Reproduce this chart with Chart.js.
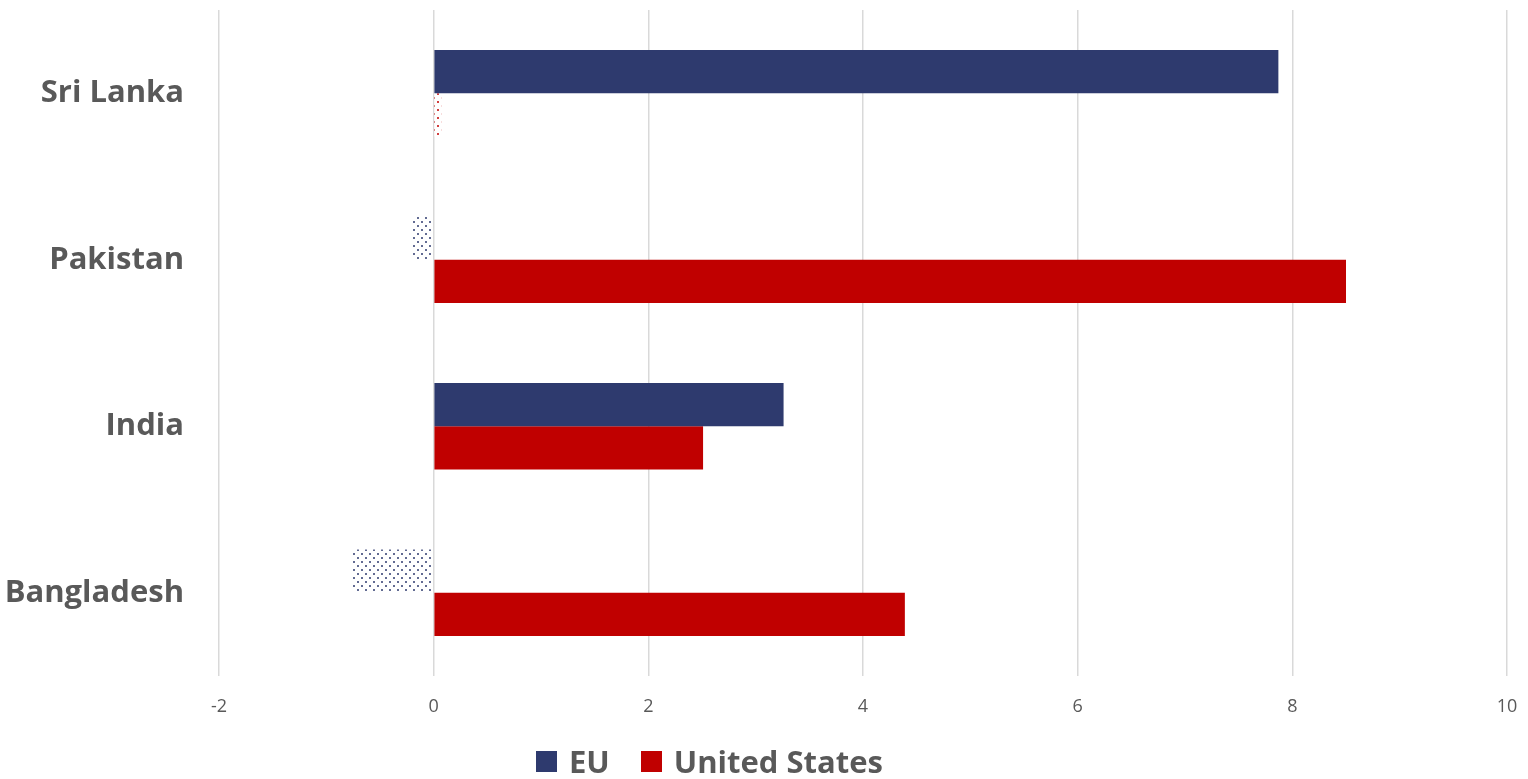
<!DOCTYPE html>
<html lang="en">
<head>
    <meta charset="UTF-8">
    <title>EU and United States</title>
    <script src="https://cdn.jsdelivr.net/npm/chart.js"></script>
    <style>
        html, body { margin: 0; padding: 0; background: #fff; }
        .chart-box { position: relative; width: 1528px; height: 779px; }

        /* legend sits a bit left of centre in the original, so it is plain html */
        .legend {
            position: absolute;
            left: 536px;
            top: 740px;
            display: flex;
            align-items: center;
            font-family: "Open Sans", Lato, sans-serif;
            font-weight: bold;
            font-size: 31px;
            line-height: 42px;
            color: #595959;
        }
        .legend .item { display: flex; align-items: center; margin-right: 31px; }
        .legend .swatch { width: 21px; height: 21px; margin-right: 12px; }
    </style>
</head>
<body>
    <div class="chart-box">
        <canvas id="tradeChart"></canvas>
        <div class="legend" id="legend"></div>
    </div>

    <script>
        // Data
        const countries = ['Sri Lanka', 'Pakistan', 'India', 'Bangladesh'];
        const seriesNames = ['EU', 'United States'];
        const euValues = [7.87, -0.2, 3.26, -0.77];
        const usValues = [0.07, 8.5, 2.51, 4.39];
        const xTicks = [-2, 0, 2, 4, 6, 8, 10];

        const EU_COLOR = '#2E3A6E';
        const US_COLOR = '#C00000';
        const TEXT_GRAY = '#595959';
        const FONT = '"Open Sans", Lato, sans-serif';

        // dotted fill used for the tiny / negative bars
        function dotPattern(color) {
            const c = document.createElement('canvas');
            c.width = 8;
            c.height = 8;
            const g = c.getContext('2d');
            g.fillStyle = '#ffffff';
            g.fillRect(0, 0, 8, 8);
            g.globalAlpha = 0.75;
            g.fillStyle = color;
            g.fillRect(1, 1, 2, 2);
            g.fillRect(5, 5, 2, 2);
            return g.createPattern(c, 'repeat');
        }

        function fills(values, color) {
            const pat = dotPattern(color);
            return values.map(v => v < 0.1 ? pat : color);
        }

        const ctx = document.getElementById('tradeChart').getContext('2d');
        const tradeChart = new Chart(ctx, {
            type: 'bar',
            data: {
                labels: countries,
                datasets: [{
                    label: seriesNames[0],
                    data: euValues,
                    backgroundColor: fills(euValues, EU_COLOR),
                    borderWidth: 0
                }, {
                    label: seriesNames[1],
                    data: usValues,
                    backgroundColor: fills(usValues, US_COLOR),
                    borderWidth: 0
                }]
            },
            options: {
                indexAxis: 'y',
                responsive: true,
                maintainAspectRatio: false,
                animation: false,
                datasets: {
                    bar: {
                        categoryPercentage: 0.52,
                        barPercentage: 1.0
                    }
                },
                layout: {
                    padding: { top: 10, right: 21, left: 0, bottom: 59 }
                },
                scales: {
                    x: {
                        min: -2,
                        max: 10,
                        afterBuildTicks: (scale) => {
                            scale.ticks = xTicks.map(v => ({ value: v }));
                        },
                        afterFit: (scale) => {
                            scale.height = 44;
                            scale.paddingLeft = 0;
                            scale.paddingRight = 0;
                        },
                        grid: {
                            color: '#D9D9D9',
                            lineWidth: 1.5,
                            drawTicks: false
                        },
                        border: { display: false },
                        ticks: {
                            color: TEXT_GRAY,
                            padding: 20,
                            font: { family: FONT, size: 18 }
                        }
                    },
                    y: {
                        afterFit: (scale) => {
                            scale.width = 219;
                            scale.paddingTop = 0;
                            scale.paddingBottom = 0;
                        },
                        grid: { display: false, drawTicks: false },
                        border: { display: false },
                        ticks: {
                            color: TEXT_GRAY,
                            padding: 35,
                            font: { family: FONT, size: 31, weight: 'bold' }
                        }
                    }
                },
                plugins: {
                    tooltip: { enabled: false },
                    legend: { display: false }
                }
            }
        });

        // build the legend from the datasets
        const legendEl = document.getElementById('legend');
        tradeChart.data.datasets.forEach((ds, i) => {
            const item = document.createElement('div');
            item.className = 'item';
            const sw = document.createElement('span');
            sw.className = 'swatch';
            sw.style.background = i === 0 ? EU_COLOR : US_COLOR;
            const txt = document.createElement('span');
            txt.textContent = ds.label;
            item.appendChild(sw);
            item.appendChild(txt);
            legendEl.appendChild(item);
        });
    </script>
</body>
</html>
